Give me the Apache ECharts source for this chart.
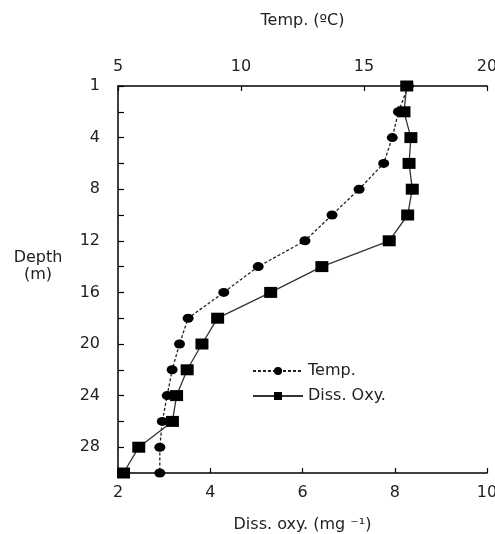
<html>
<head>
    <meta charset="UTF-8">
    <title>Depth profile</title>
    <script src="https://cdn.jsdelivr.net/npm/echarts@6/dist/echarts.min.js"></script>
</head>

<body style="margin:0">
    <div id="container" style="width: 495px;height:534px;"></div>
</body>

<script>
    // depth (m), top label reads 1
    var depths = ['1', '2', '4', '6', '8', '10', '12', '14', '16', '18', '20', '22', '24', '26', '28', '30'];
    var temp = [16.8, 16.4, 16.15, 15.8, 14.8, 13.7, 12.6, 10.7, 9.3, 7.85, 7.5, 7.2, 7.0, 6.8, 6.7, 6.7];
    var oxy = [8.26, 8.2, 8.35, 8.31, 8.38, 8.28, 7.88, 6.42, 5.31, 4.16, 3.82, 3.5, 3.27, 3.18, 2.45, 2.12];
    var tempTicks = [5, 20, 5];   // min, max, step
    var oxyTicks = [2, 10, 2];

    var txt = '#222';
    var fnt = 'DejaVu Sans';
    var mycharts = echarts.init(document.getElementById('container'));

    var axisLine = { show: true, lineStyle: { color: '#000', width: 1.5 } };
    var axisTick = { show: true, inside: true, length: 5, lineStyle: { color: '#000', width: 1.2 } };

    var option = {
        animation: false,
        textStyle: { fontFamily: fnt, color: txt },
        // y axis name, placed as a title block left of the axis
        title: {
            text: 'Depth\n(m)',
            left: 38,
            top: 249,
            textAlign: 'center',
            padding: 0,
            textStyle: { fontSize: 16, fontWeight: 'normal', color: txt, fontFamily: fnt, lineHeight: 17 }
        },
        grid: { left: 118, right: 8, top: 86, bottom: 61, outerBoundsMode: 'none', containLabel: false },
        legend: {
            orient: 'vertical',
            left: 247,
            top: 358,
            itemWidth: 50,
            itemHeight: 10,
            itemGap: 9,
            textStyle: { fontSize: 16, color: txt, fontFamily: fnt },
            data: ['Temp.', 'Diss. Oxy.']
        },
        xAxis: [{
            type: 'value',
            position: 'bottom',
            min: oxyTicks[0], max: oxyTicks[1], interval: oxyTicks[2],
            name: 'Diss. oxy. (mg ⁻¹)',
            nameLocation: 'middle',
            nameGap: 44,
            nameTextStyle: { fontSize: 16, color: txt },
            axisLine: axisLine,
            axisTick: axisTick,
            axisLabel: { fontSize: 16, color: txt, margin: 12 },
            splitLine: { show: false }
        }, {
            type: 'value',
            position: 'top',
            min: tempTicks[0], max: tempTicks[1], interval: tempTicks[2],
            name: 'Temp. (ºC)',
            nameLocation: 'middle',
            nameGap: 57,
            nameTextStyle: { fontSize: 16, color: txt },
            axisLine: axisLine,
            axisTick: axisTick,
            axisLabel: { fontSize: 16, color: txt, margin: 11 },
            splitLine: { show: false }
        }],
        yAxis: {
            type: 'category',
            inverse: true,
            boundaryGap: false,
            data: depths,
            axisLine: axisLine,
            axisTick: { show: true, inside: true, length: 6, interval: 0, lineStyle: { color: '#000', width: 1.2 } },
            axisLabel: { fontSize: 16, color: txt, margin: 18, interval: 1 },
            splitLine: { show: false }
        },
        series: [{
            name: 'Temp.',
            type: 'line',
            xAxisIndex: 1,
            data: temp,
            symbol: 'circle',
            symbolSize: [11, 9],
            itemStyle: { color: '#000' },
            lineStyle: { color: '#222', width: 1.3, type: [3, 2] }
        }, {
            name: 'Diss. Oxy.',
            type: 'line',
            xAxisIndex: 0,
            data: oxy,
            symbol: 'rect',
            symbolSize: [13, 11],
            itemStyle: { color: '#000' },
            lineStyle: { color: '#333', width: 1.3 }
        }]
    };
    mycharts.setOption(option);
</script>
</html>
